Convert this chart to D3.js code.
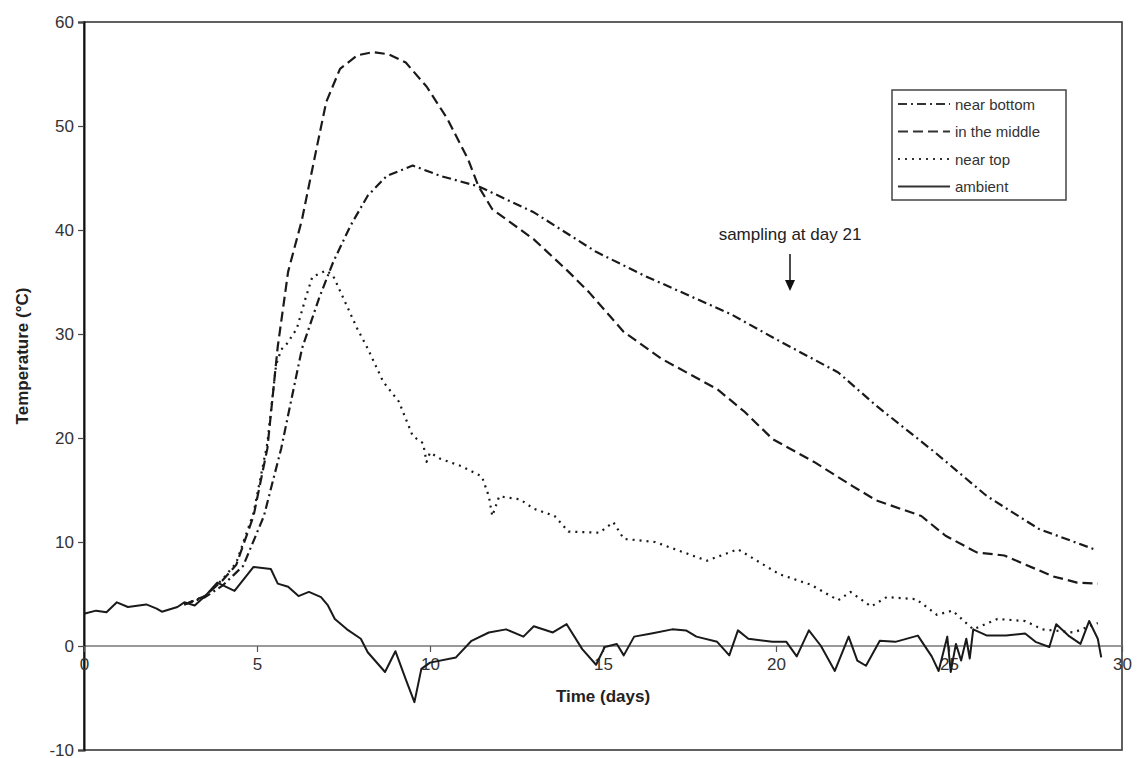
<!DOCTYPE html>
<html><head><meta charset="utf-8">
<script src="https://cdn.jsdelivr.net/npm/d3@7"></script>
<style>
body{margin:0;background:#fff}
text{font-family:"Liberation Sans",Arial,Helvetica,sans-serif}
</style>
</head><body>
<svg id="chart" width="1139" height="758"></svg>
<script>
const xTicks = [0, 5, 10, 15, 20, 25, 30];
const yTicks = [-10, 0, 10, 20, 30, 40, 50, 60];
const seriesNames = ["near bottom", "in the middle", "near top", "ambient"];

// [day, temperature °C]
const nearBottom = [
  [2.9,4.0],[3.5,4.7],[4.0,5.8],[4.6,7.7],[5.2,12.5],[5.7,19],[6.3,28.6],[6.8,33.5],[7.2,36.9],
  [7.7,40.4],[8.2,43.3],[8.75,45.2],[9.5,46.2],[10.3,45.2],[11.4,44.2],[13.0,41.7],[14.8,37.9],
  [16.2,35.6],[18.7,31.9],[20.0,29.5],[21.8,26.3],[22.9,23.1],[24.6,18.6],[26.1,14.4],[27.6,11.25],[29.2,9.3]
];
const inTheMiddle = [
  [2.9,4.0],[3.5,4.8],[4.0,6.3],[4.4,7.8],[4.9,12.5],[5.3,19],[5.6,28.8],[5.9,36],[6.3,41],[6.7,47.5],
  [7.0,52.3],[7.4,55.5],[7.9,56.8],[8.35,57.1],[8.8,56.9],[9.3,56.1],[9.9,53.8],[10.5,50.7],[11.1,46.8],
  [11.4,44.2],[11.8,42],[13.0,39.1],[14.0,36],[14.6,34],[15.6,30.2],[16.7,27.6],[18.3,24.7],[19.1,22.5],
  [19.9,19.9],[21.1,17.7],[22.2,15.4],[22.9,14],[24.2,12.5],[24.9,10.6],[25.8,9.0],[26.6,8.7],[28.0,6.7],
  [28.7,6.1],[29.3,6.0]
];
const nearTop = [
  [2.9,4.0],[3.5,4.8],[4.0,6.4],[4.4,8.0],[4.9,12.8],[5.3,19.5],[5.55,27],[5.7,28.5],[5.85,29],[6.15,30.5],
  [6.4,33.4],[6.6,35.5],[7.0,36.1],[7.2,35.6],[7.9,30.5],[8.2,28.6],[8.65,25.4],[9.1,23.5],[9.5,20.2],
  [9.8,19.5],[9.9,17.7],[10.0,18.6],[10.3,18],[10.9,17.3],[11.5,16.3],[11.7,14.4],[11.8,12.5],[12.0,14.4],
  [12.6,14.1],[13.0,13.2],[13.6,12.5],[14.0,11.0],[14.9,10.9],[15.3,11.9],[15.6,10.3],[16.5,10],[18.0,8.2],
  [18.9,9.3],[20.1,6.9],[21.0,5.9],[21.8,4.4],[22.15,5.2],[22.75,3.8],[23.2,4.7],[24.05,4.5],[24.65,3.0],
  [25.1,3.4],[25.7,1.6],[26.4,2.6],[27.2,2.4],[27.7,1.6],[28.6,1.3],[29.3,2.2]
];
const ambient = [
  [0,3.1],[0.35,3.4],[0.65,3.25],[0.95,4.2],[1.27,3.75],[1.8,4.0],[2.1,3.6],[2.25,3.3],[2.7,3.75],[2.9,4.2],
  [3.2,3.9],[3.5,4.8],[3.85,6.1],[4.35,5.3],[4.9,7.6],[5.4,7.4],[5.6,6.0],[5.9,5.7],[6.2,4.8],[6.5,5.2],
  [6.85,4.7],[7.05,3.9],[7.25,2.6],[7.6,1.6],[8.0,0.7],[8.2,-0.6],[8.7,-2.5],[9.0,-0.5],[9.3,-3.2],[9.55,-5.4],
  [9.75,-2.2],[10.0,-1.6],[10.75,-1.1],[11.2,0.5],[11.7,1.3],[12.2,1.6],[12.7,0.9],[13.0,1.9],[13.55,1.3],
  [13.95,2.1],[14.4,-0.3],[14.8,-1.8],[15.05,-0.1],[15.4,0.2],[15.6,-0.9],[15.9,0.9],[16.4,1.2],[17.0,1.6],
  [17.4,1.5],[17.7,0.9],[18.3,0.4],[18.65,-0.9],[18.9,1.5],[19.2,0.7],[19.9,0.4],[20.3,0.4],[20.6,-1.0],
  [20.95,1.5],[21.3,0],[21.7,-2.4],[22.1,0.9],[22.35,-1.4],[22.6,-1.9],[23.0,0.5],[23.45,0.4],[24.1,1.0],
  [24.5,-1.0],[24.7,-2.4],[24.95,0.9],[25.05,-2.5],[25.2,0.2],[25.35,-1.4],[25.5,0.7],[25.6,-1.2],[25.7,1.6],
  [26.1,1.0],[26.65,1.0],[27.2,1.2],[27.5,0.4],[27.9,-0.1],[28.1,2.1],[28.45,1.0],[28.8,0.2],[29.05,2.4],
  [29.3,0.7],[29.4,-1.1]
];
const seriesData = [nearBottom, inTheMiddle, nearTop, ambient];
const seriesDash = ["9,4,2,4", "10,5", "2,5", null];

const svg = d3.select("#chart");
const L = 84, R = 1122, T = 22, B = 750;
const x = d3.scaleLinear().domain([0, 30]).range([L, R]);
const y = d3.scaleLinear().domain([-10, 60]).range([B, T]);

// plot frame
svg.append("rect").attr("x", L).attr("y", T).attr("width", R - L).attr("height", B - T)
  .attr("fill", "none").attr("stroke", "#3a3a3a").attr("stroke-width", 1.6);

// zero line
svg.append("line").attr("x1", L).attr("x2", R).attr("y1", y(0)).attr("y2", y(0))
  .attr("stroke", "#777").attr("stroke-width", 1.6);

// y axis
const yAxis = svg.append("g").attr("transform", `translate(${L},0)`)
  .call(d3.axisLeft(y).tickValues(yTicks).tickSize(6).tickPadding(4).tickFormat(d3.format("d")));
yAxis.select(".domain").attr("stroke", "#111").attr("stroke-width", 2);
yAxis.selectAll(".tick line").attr("stroke", "#444").attr("stroke-width", 1.2);
yAxis.selectAll(".tick text").attr("font-size", 17).attr("fill", "#333")
  .text(d => d < 0 ? "-" + Math.abs(d) : d);

// x axis on zero line
const xAxis = svg.append("g").attr("transform", `translate(0,${y(0)})`)
  .call(d3.axisBottom(x).tickValues(xTicks).tickSize(6).tickPadding(6).tickFormat(d3.format("d")));
xAxis.select(".domain").remove();
xAxis.selectAll(".tick line").attr("stroke", "#555").attr("stroke-width", 1.2);
xAxis.selectAll(".tick text").attr("font-size", 17).attr("fill", "#333");

// axis titles
svg.append("text").attr("x", (L + R) / 2).attr("y", 702).attr("text-anchor", "middle")
  .attr("font-size", 17).attr("font-weight", "bold").attr("fill", "#222").text("Time (days)");
svg.append("text").attr("transform", `translate(28,${(T + B) / 2 - 30}) rotate(-90)`)
  .attr("text-anchor", "middle").attr("font-size", 17).attr("font-weight", "bold").attr("fill", "#222")
  .text("Temperature (°C)");

// series lines
const line = d3.line().x(d => x(d[0])).y(d => y(d[1]));
seriesData.forEach((s, i) => {
  svg.append("path").datum(s).attr("d", line).attr("fill", "none")
    .attr("stroke", "#1a1a1a").attr("stroke-width", i === 3 ? 2 : 2.2)
    .attr("stroke-linejoin", "round")
    .attr("stroke-dasharray", seriesDash[i]);
});

// annotation
svg.append("text").attr("x", 790).attr("y", 240).attr("text-anchor", "middle")
  .attr("font-size", 17).attr("fill", "#222").text("sampling at day 21");
svg.append("line").attr("x1", 790).attr("x2", 790).attr("y1", 254).attr("y2", 282)
  .attr("stroke", "#111").attr("stroke-width", 1.5);
svg.append("path").attr("d", "M785,280 L795,280 L790,291 Z").attr("fill", "#111");

// legend
const lg = svg.append("g");
lg.append("rect").attr("x", 892).attr("y", 90).attr("width", 174).attr("height", 110)
  .attr("fill", "#fff").attr("stroke", "#444").attr("stroke-width", 1.5);
seriesNames.forEach((n, i) => {
  const yy = 104 + i * 27.5;
  lg.append("line").attr("x1", 898).attr("x2", 950).attr("y1", yy).attr("y2", yy)
    .attr("stroke", "#333").attr("stroke-width", 2).attr("stroke-dasharray", seriesDash[i]);
  lg.append("text").attr("x", 955).attr("y", yy + 5.5).attr("font-size", 15).attr("fill", "#333").text(n);
});
</script>
</body></html>
